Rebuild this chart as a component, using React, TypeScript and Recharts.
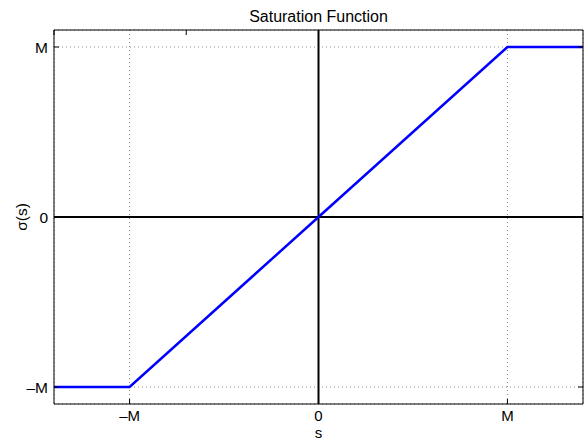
import React from "react";
import {
  LineChart,
  Line,
  XAxis,
  YAxis,
  CartesianGrid,
  ReferenceLine,
} from "recharts";

// saturation function sampled at its corners
const sValues = [-1.4, -1, 0, 1, 1.4];
const sigmaValues = [-1, -1, 0, 1, 1];

const tickValues = [-1, 0, 1];
const tickLabels = ["\u2013M", "0", "M"];

const xDomain: [number, number] = [-1.4, 1.4];
const yDomain: [number, number] = [-1.1, 1.1];

const data = sValues.map((s, i) => ({ s, sigma: sigmaValues[i] }));

const FONT = "'Liberation Sans', Arial, Helvetica, sans-serif";

const labelFor = (v: number) => tickLabels[tickValues.indexOf(v)] ?? String(v);

function BottomTick({ x, y, payload }: any) {
  return (
    <g>
      <line x1={x} x2={x} y1={y} y2={y - 5} stroke="#000" />
      <text
        x={x}
        y={y + 17}
        textAnchor="middle"
        fontSize={15}
        fontFamily={FONT}
        fill="#000"
      >
        {labelFor(payload.value)}
      </text>
    </g>
  );
}

function LeftTick({ x, y, payload }: any) {
  return (
    <g>
      <line x1={x} x2={x + 5} y1={y} y2={y} stroke="#000" />
      <text
        x={x - 6}
        y={y + 5.5}
        textAnchor="end"
        fontSize={15.5}
        fontFamily={FONT}
        fill="#000"
      >
        {labelFor(payload.value)}
      </text>
    </g>
  );
}

export default function App() {
  return (
    <div style={{ position: "absolute", left: 0, top: 0, background: "#fff" }}>
      <LineChart
        width={585}
        height={441}
        data={data}
        margin={{ top: 30, right: 2, bottom: 0, left: 0 }}
      >
        <CartesianGrid stroke="#8a8a8a" strokeDasharray="1 3" />
        <XAxis
          dataKey="s"
          type="number"
          domain={xDomain}
          ticks={tickValues}
          allowDataOverflow
          height={37}
          tickSize={0}
          tickMargin={0}
          tickLine={false}
          axisLine={{ stroke: "#000" }}
          tick={<BottomTick />}
          label={{
            content: ({ viewBox }: any) => (
              <text
                x={viewBox.x + viewBox.width / 2}
                y={437.7}
                textAnchor="middle"
                fontSize={15}
                fontFamily={FONT}
                fill="#000"
              >
                s
              </text>
            ),
          }}
        />
        <XAxis
          xAxisId="top"
          orientation="top"
          type="number"
          domain={xDomain}
          ticks={tickValues}
          allowDataOverflow
          mirror
          tickSize={5}
          tickFormatter={() => ""}
          tickLine={{ stroke: "#000" }}
          axisLine={{ stroke: "#000" }}
          label={{
            content: ({ viewBox }: any) => (
              <text
                x={viewBox.x + viewBox.width / 2}
                y={22}
                textAnchor="middle"
                fontSize={16}
                fontFamily={FONT}
                fill="#000"
              >
                Saturation Function
              </text>
            ),
          }}
        />
        <YAxis
          type="number"
          domain={yDomain}
          ticks={tickValues}
          allowDataOverflow
          width={54}
          tickSize={0}
          tickMargin={0}
          tickLine={false}
          axisLine={{ stroke: "#000" }}
          tick={<LeftTick />}
          label={{
            content: ({ viewBox }: any) => {
              const cy = viewBox.y + viewBox.height / 2;
              return (
                <text
                  x={21}
                  y={cy}
                  transform={`rotate(-90 21 ${cy})`}
                  textAnchor="middle"
                  dominantBaseline="central"
                  fontSize={15.5}
                  fontFamily={FONT}
                  fill="#000"
                >
                  σ(s)
                </text>
              );
            },
          }}
        />
        <YAxis
          yAxisId="right"
          orientation="right"
          type="number"
          domain={yDomain}
          ticks={tickValues}
          allowDataOverflow
          mirror
          tickSize={5}
          tickFormatter={() => ""}
          tickLine={{ stroke: "#000" }}
          axisLine={{ stroke: "#000" }}
        />
        <ReferenceLine x={0} stroke="#000" strokeWidth={2} />
        <ReferenceLine y={0} stroke="#000" strokeWidth={2} />
        <Line
          dataKey="sigma"
          type="linear"
          stroke="#0000ff"
          strokeWidth={2.5}
          dot={false}
          isAnimationActive={false}
        />
      </LineChart>
    </div>
  );
}
